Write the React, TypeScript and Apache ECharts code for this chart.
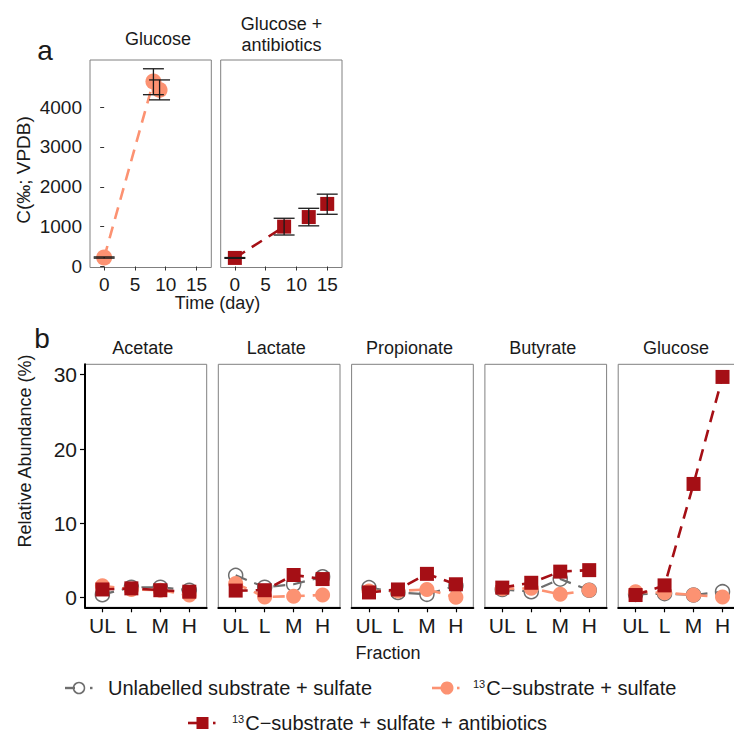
import React, { useEffect, useRef } from "react";
import * as echarts from "echarts";

// ---------------- data ----------------
const FRACTIONS = ["UL", "L", "M", "H"];
const SUBSTRATES = ["Acetate", "Lactate", "Propionate", "Butyrate", "Glucose"];

// relative abundance (%) – rows follow SUBSTRATES, columns follow FRACTIONS
const unlabelledSulfate = [
  [0.4, 1.4, 1.4, 1.0],
  [3.0, 1.4, 1.8, 2.8],
  [1.35, 0.7, 0.45, 1.6],
  [1.1, 0.8, 2.5, 1.0],
  [0.45, 0.55, 0.35, 0.8],
];
const labelledSulfate = [
  [1.6, 1.1, 1.0, 0.35],
  [1.9, 0.1, 0.2, 0.35],
  [0.9, 0.9, 1.1, 0.05],
  [1.2, 1.25, 0.45, 1.0],
  [0.8, 0.65, 0.35, 0.1],
];
const labelledSulfateAntibiotics = [
  [1.1, 1.25, 1.0, 0.8],
  [0.95, 1.0, 3.05, 2.5],
  [0.7, 1.1, 3.2, 1.8],
  [1.35, 2.0, 3.5, 3.7],
  [0.35, 1.65, 15.3, 29.7],
];

// panel a – delta 13C over time
const TIME_TICKS = [0, 5, 10, 15];
const DELTA_TICKS = [0, 1000, 2000, 3000, 4000];
const ABUND_TICKS = [0, 10, 20, 30];

const glucoseDays = [0, 8, 9];
const glucoseMean = [225, 4640, 4430];
const glucoseLow = [210, 4310, 4180];
const glucoseHigh = [240, 4960, 4680];

const antibioticDays = [0, 8, 12, 15];
const antibioticMean = [215, 1000, 1240, 1570];
const antibioticLow = [205, 790, 1020, 1310];
const antibioticHigh = [225, 1210, 1460, 1815];
// the dashed line in the reference only joins the first two sampling days
const antibioticLinePoints = 2;

// ---------------- style ----------------
const FONT = "'Liberation Sans', Arial, Helvetica, sans-serif";
const GRAY = "#6e6e6e";
const ORANGE = "#FC9272";
const RED = "#A50F15";
const TEXT = "#1a1a1a";
const BORDER = "#808080";
const DASH = [12, 8];

const A_TOP = 60;
const A_HEIGHT = 207.5;
const A_LEFTS = [90, 220.7];
const A_WIDTH = 121.3;
const B_TOP = 364.3;
const B_HEIGHT = 243;
const B_LEFT0 = 85;
const B_STEP = 133.3;
const B_WIDTH = 121.7;

function errorBarSeries(axisIndex: number, days: number[], low: number[], high: number[]) {
  return {
    type: "custom",
    xAxisIndex: axisIndex,
    yAxisIndex: axisIndex,
    z: 5,
    silent: true,
    encode: { x: 0, y: [1, 2] },
    data: days.map((d, i) => [d, low[i], high[i]]),
    renderItem: (params: any, api: any) => {
      const x = api.value(0);
      const lo = api.coord([x, api.value(1)]);
      const hi = api.coord([x, api.value(2)]);
      const half = api.size([3.4, 0])[0] / 2;
      const st = { stroke: TEXT, lineWidth: 1.3 };
      return {
        type: "group",
        children: [
          { type: "line", shape: { x1: lo[0], y1: lo[1], x2: hi[0], y2: hi[1] }, style: st },
          { type: "line", shape: { x1: lo[0] - half, y1: lo[1], x2: lo[0] + half, y2: lo[1] }, style: st },
          { type: "line", shape: { x1: hi[0] - half, y1: hi[1], x2: hi[0] + half, y2: hi[1] }, style: st },
        ],
      };
    },
  };
}

function buildOption() {
  const grids: any[] = [];
  const xAxes: any[] = [];
  const yAxes: any[] = [];
  const series: any[] = [];
  const graphics: any[] = [];

  const gridBase = {
    show: true,
    borderColor: BORDER,
    borderWidth: 1,
    backgroundColor: "transparent",
    containLabel: false,
    outerBoundsMode: "none",
  };

  // ---- panel a ----
  A_LEFTS.forEach((left, i) => {
    grids.push({ ...gridBase, left, top: A_TOP, width: A_WIDTH, height: A_HEIGHT });
    xAxes.push({
      type: "value",
      gridIndex: i,
      min: -2.3,
      max: 17.4,
      axisLine: { show: false },
      splitLine: { show: false },
      axisTick: { show: true, customValues: TIME_TICKS, length: 4, lineStyle: { color: "#333", width: 1 } },
      axisLabel: {
        show: true,
        customValues: TIME_TICKS,
        formatter: (v: number) => String(v),
        fontSize: 19,
        color: TEXT,
        fontFamily: FONT,
        margin: 7,
      },
    });
    yAxes.push({
      type: "value",
      gridIndex: i,
      min: -25,
      max: 5180,
      axisLine: { show: false },
      splitLine: { show: false },
      axisTick: { show: i === 0, customValues: DELTA_TICKS, length: 4, lineStyle: { color: "#333", width: 1 } },
      axisLabel: {
        show: i === 0,
        customValues: DELTA_TICKS,
        formatter: (v: number) => String(v),
        fontSize: 19,
        color: TEXT,
        fontFamily: FONT,
        margin: 8,
      },
    });
  });

  series.push({
    type: "line",
    xAxisIndex: 0,
    yAxisIndex: 0,
    z: 2,
    silent: true,
    data: glucoseDays.map((d, i) => [d, glucoseMean[i]]),
    symbol: "circle",
    symbolSize: 16,
    itemStyle: { color: ORANGE, opacity: 1 },
    lineStyle: { color: ORANGE, width: 2.6, type: DASH },
  });
  series.push(errorBarSeries(0, glucoseDays, glucoseLow, glucoseHigh));

  series.push({
    type: "line",
    xAxisIndex: 1,
    yAxisIndex: 1,
    z: 2,
    silent: true,
    showSymbol: false,
    data: antibioticDays.slice(0, antibioticLinePoints).map((d, i) => [d, antibioticMean[i]]),
    lineStyle: { color: RED, width: 2.6, type: DASH },
  });
  series.push({
    type: "scatter",
    xAxisIndex: 1,
    yAxisIndex: 1,
    z: 3,
    silent: true,
    data: antibioticDays.map((d, i) => [d, antibioticMean[i]]),
    symbol: "rect",
    symbolSize: 14,
    itemStyle: { color: RED, opacity: 1 },
  });
  series.push(errorBarSeries(1, antibioticDays, antibioticLow, antibioticHigh));

  // ---- panel b ----
  const treatments = [
    { values: unlabelledSulfate, symbol: "circle", size: 14, item: { color: "rgba(255,255,255,0)", borderColor: GRAY, borderWidth: 1.5 }, line: GRAY, width: 2.2 },
    { values: labelledSulfate, symbol: "circle", size: 15, item: { color: ORANGE }, line: ORANGE, width: 2.6 },
    { values: labelledSulfateAntibiotics, symbol: "rect", size: 14, item: { color: RED }, line: RED, width: 2.6 },
  ];

  SUBSTRATES.forEach((name, s) => {
    const gi = 2 + s;
    const left = B_LEFT0 + B_STEP * s;
    grids.push({ ...gridBase, left, top: B_TOP, width: B_WIDTH, height: B_HEIGHT });
    xAxes.push({
      type: "value",
      gridIndex: gi,
      min: -0.6,
      max: 3.6,
      axisLine: { show: true, onZero: false, lineStyle: { color: "#000", width: 2 } },
      splitLine: { show: false },
      axisTick: { show: true, customValues: [0, 1, 2, 3], length: 5, lineStyle: { color: "#000", width: 1.2 } },
      axisLabel: {
        show: true,
        customValues: [0, 1, 2, 3],
        formatter: (v: number) => FRACTIONS[Math.round(v)],
        fontSize: 21,
        color: TEXT,
        fontFamily: FONT,
        margin: 8,
      },
    });
    yAxes.push({
      type: "value",
      gridIndex: gi,
      min: -1.3,
      max: 31.4,
      axisLine: { show: s === 0, onZero: false, lineStyle: { color: "#000", width: 2 } },
      splitLine: { show: false },
      axisTick: { show: s === 0, customValues: ABUND_TICKS, length: 5, lineStyle: { color: "#000", width: 1.2 } },
      axisLabel: {
        show: s === 0,
        customValues: ABUND_TICKS,
        formatter: (v: number) => String(v),
        fontSize: 21,
        color: TEXT,
        fontFamily: FONT,
        margin: 8,
      },
    });
    treatments.forEach((t, k) => {
      series.push({
        type: "line",
        xAxisIndex: gi,
        yAxisIndex: gi,
        z: 2 + k,
        silent: true,
        data: t.values[s].map((v, f) => [f, v]),
        symbol: t.symbol,
        symbolSize: t.size,
        showAllSymbol: true,
        itemStyle: { ...t.item, opacity: 1 },
        lineStyle: { color: t.line, width: t.width, type: DASH },
      });
    });
    graphics.push({
      type: "text",
      x: left + B_WIDTH / 2 - 3,
      y: 347.5,
      style: { text: name, fontSize: 18, fontFamily: FONT, fill: TEXT, align: "center", verticalAlign: "middle", textAlign: "center", textVerticalAlign: "middle" },
    });
  });

  // ---- titles & labels ----
  const txt = (text: string, x: number, y: number, size: number, extra: any = {}) => ({
    type: "text",
    x,
    y,
    ...extra,
    style: {
      text,
      fontSize: size,
      fontFamily: FONT,
      fill: TEXT,
      align: "center",
      verticalAlign: "middle",
      textAlign: "center",
      textVerticalAlign: "middle",
      ...(extra.style || {}),
    },
  });

  graphics.push(txt("a", 45, 50, 28));
  graphics.push(txt("b", 42, 338.5, 28));
  graphics.push(txt("Glucose", 158, 39, 18));
  graphics.push(txt("Glucose +\nantibiotics", 281.5, 34.5, 18, { style: { lineHeight: 21 } }));
  graphics.push(txt("C(‰; VPDB)", 23, 170, 19, { rotation: Math.PI / 2 }));
  graphics.push(txt("Time (day)", 217.5, 303, 18));
  graphics.push(txt("Relative Abundance (%)", 25, 451, 18, { rotation: Math.PI / 2 }));
  graphics.push(txt("Fraction", 388, 653, 18));

  // ---- legend ----
  const legendText = (text: string, x: number, y: number) => ({
    type: "text",
    x,
    y,
    style: {
      text,
      fontSize: 20,
      fontFamily: FONT,
      fill: TEXT,
      align: "left",
      verticalAlign: "middle",
      textAlign: "left",
      textVerticalAlign: "middle",
      rich: {
        sup: { fontSize: 11, fontFamily: FONT, fill: TEXT, verticalAlign: "top", padding: [0, 1, 0, 0] },
        n: { fontSize: 20, fontFamily: FONT, fill: TEXT },
      },
    },
  });
  const seg = (x1: number, x2: number, y: number, color: string, w: number) => ({
    type: "line",
    shape: { x1, y1: y, x2, y2: y },
    style: { stroke: color, lineWidth: w },
  });

  // row 1
  graphics.push(seg(65, 75, 688, GRAY, 2.4));
  graphics.push({ type: "circle", shape: { cx: 79, cy: 688, r: 5.5 }, style: { fill: "none", stroke: GRAY, lineWidth: 1.5 } });
  graphics.push(seg(90, 92.5, 688, GRAY, 2.4));
  graphics.push(legendText("Unlabelled substrate + sulfate", 108, 688));

  graphics.push(seg(432, 441, 688, ORANGE, 2.6));
  graphics.push({ type: "circle", shape: { cx: 447, cy: 688, r: 6.5 }, style: { fill: ORANGE } });
  graphics.push(seg(457, 459.5, 688, ORANGE, 2.6));
  graphics.push(legendText("{sup|13}{n|C−substrate + sulfate}", 473, 688));

  // row 2
  graphics.push(seg(188, 197, 723, RED, 2.6));
  graphics.push({ type: "rect", shape: { x: 196.5, y: 717, width: 12, height: 12 }, style: { fill: RED } });
  graphics.push(seg(213, 215.5, 723, RED, 2.6));
  graphics.push(legendText("{sup|13}{n|C−substrate + sulfate + antibiotics}", 232, 723));

  return {
    animation: false,
    backgroundColor: "#ffffff",
    textStyle: { fontFamily: FONT },
    grid: grids,
    xAxis: xAxes,
    yAxis: yAxes,
    series,
    graphic: { elements: graphics },
  };
}

export default function App() {
  const ref = useRef<HTMLDivElement>(null);
  useEffect(() => {
    document.body.style.margin = "0";
    const chart = echarts.init(ref.current as HTMLDivElement, null, { renderer: "svg", width: 734, height: 734 });
    chart.setOption(buildOption() as any);
    return () => chart.dispose();
  }, []);
  return (
    <div style={{ width: 734, height: 734, overflow: "hidden", background: "#fff" }}>
      <div ref={ref} style={{ width: 734, height: 734 }} />
    </div>
  );
}
